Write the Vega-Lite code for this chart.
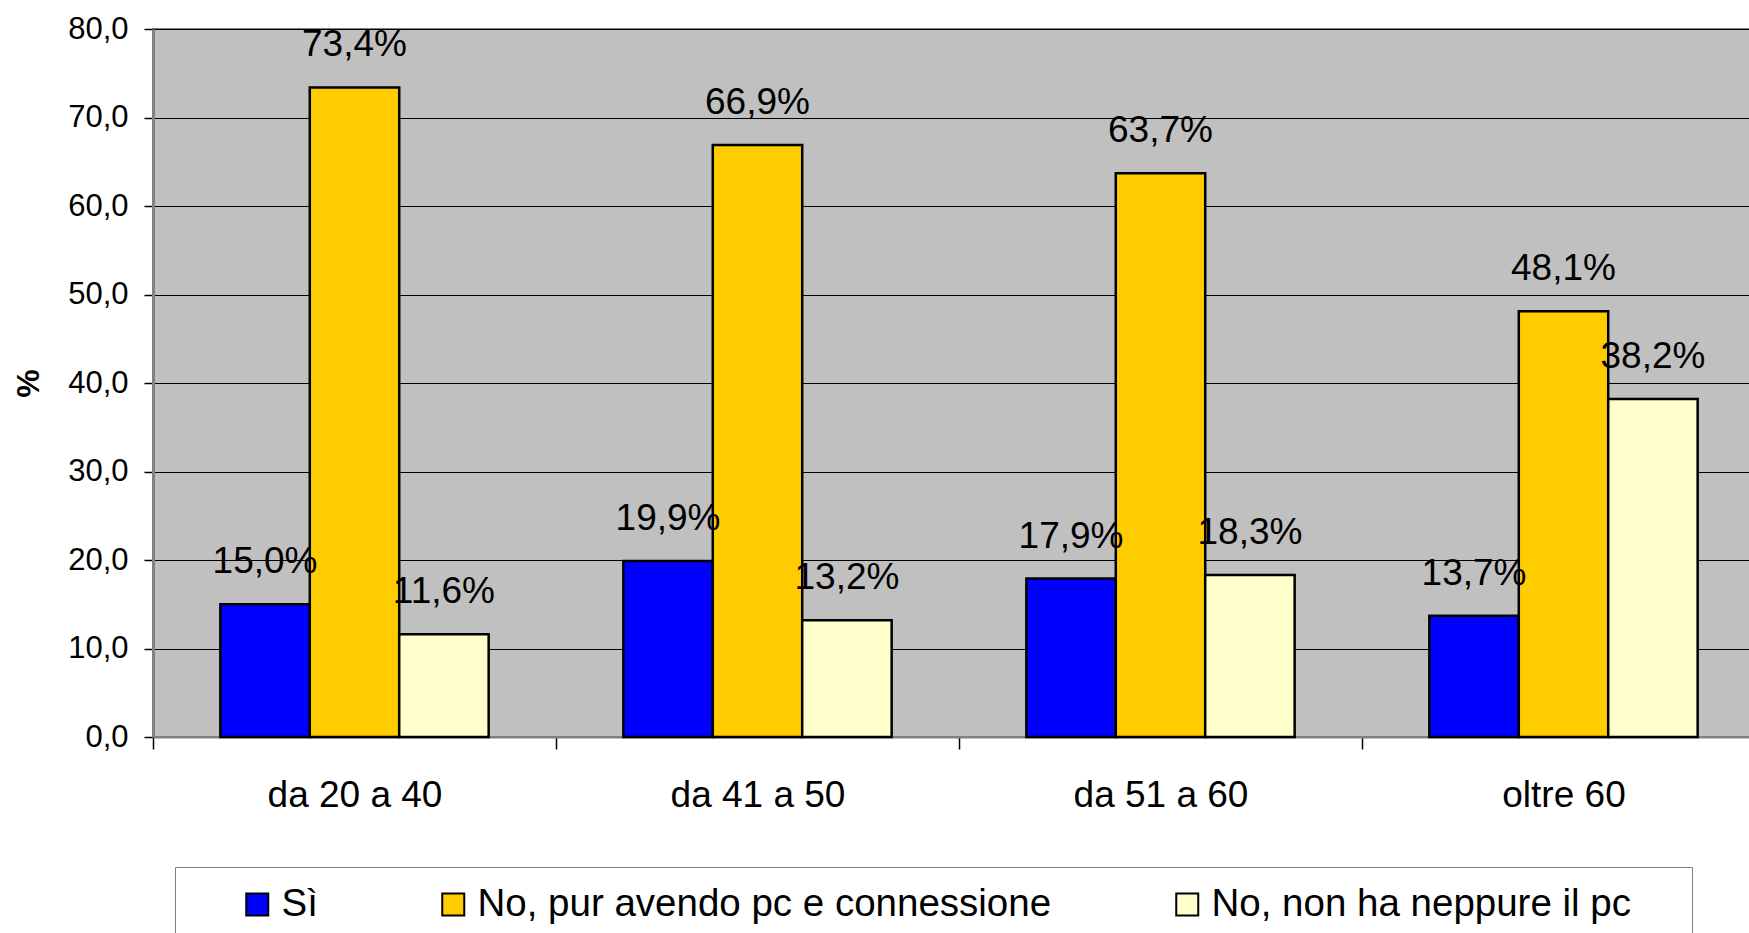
{
  "$schema": "https://vega.github.io/schema/vega-lite/v6.json",
  "width": 1612,
  "height": 708,
  "autosize": {"type": "none"},
  "padding": {"left": 153, "top": 29, "right": -16, "bottom": 196},
  "background": "white",
  "config": {
    "font": "Liberation Sans",
    "view": {"fill": "#C0C0C0", "stroke": "#808080", "strokeWidth": 2}
  },
  "data": {
    "values": [
      {"eta": "da 20 a 40", "risposta": "Sì", "pct": 15.0},
      {"eta": "da 20 a 40", "risposta": "No, pur avendo pc e connessione", "pct": 73.4},
      {"eta": "da 20 a 40", "risposta": "No, non ha neppure il pc", "pct": 11.6},
      {"eta": "da 41 a 50", "risposta": "Sì", "pct": 19.9},
      {"eta": "da 41 a 50", "risposta": "No, pur avendo pc e connessione", "pct": 66.9},
      {"eta": "da 41 a 50", "risposta": "No, non ha neppure il pc", "pct": 13.2},
      {"eta": "da 51 a 60", "risposta": "Sì", "pct": 17.9},
      {"eta": "da 51 a 60", "risposta": "No, pur avendo pc e connessione", "pct": 63.7},
      {"eta": "da 51 a 60", "risposta": "No, non ha neppure il pc", "pct": 18.3},
      {"eta": "oltre 60", "risposta": "Sì", "pct": 13.7},
      {"eta": "oltre 60", "risposta": "No, pur avendo pc e connessione", "pct": 48.1},
      {"eta": "oltre 60", "risposta": "No, non ha neppure il pc", "pct": 38.2}
    ]
  },
  "encoding": {
    "x": {
      "field": "eta",
      "type": "nominal",
      "sort": ["da 20 a 40", "da 41 a 50", "da 51 a 60", "oltre 60"],
      "scale": {"paddingInner": 0, "paddingOuter": 0},
      "axis": {
        "title": null,
        "tickBand": "extent",
        "labelAngle": 0,
        "labelFontSize": 37,
        "labelColor": "black",
        "labelPadding": 28,
        "tickSize": 12,
        "tickColor": "black",
        "tickWidth": 1.5,
        "domainColor": "#808080",
        "domainWidth": 2,
        "grid": false
      }
    },
    "xOffset": {
      "field": "risposta",
      "type": "nominal",
      "sort": ["Sì", "No, pur avendo pc e connessione", "No, non ha neppure il pc"],
      "scale": {"paddingInner": 0, "paddingOuter": 0.753}
    },
    "y": {
      "field": "pct",
      "type": "quantitative",
      "scale": {"domain": [0, 80], "nice": false},
      "axis": {
        "title": "%",
        "titleFontSize": 32,
        "titleFontWeight": "bold",
        "titleColor": "black",
        "titlePadding": 22,
        "values": [0, 10, 20, 30, 40, 50, 60, 70, 80],
        "labelExpr": "replace(format(datum.value, '.1f'), '.', ',')",
        "labelFontSize": 31,
        "labelColor": "black",
        "labelPadding": 16,
        "tickSize": 9,
        "tickColor": "black",
        "tickWidth": 1.5,
        "domainColor": "#808080",
        "domainWidth": 3,
        "gridColor": "black",
        "gridWidth": 1,
        "gridOpacity": 1
      }
    }
  },
  "layer": [
    {
      "mark": {"type": "bar", "stroke": "black", "strokeWidth": 2.5, "opacity": 1},
      "encoding": {
        "color": {
          "field": "risposta",
          "type": "nominal",
          "sort": ["Sì", "No, pur avendo pc e connessione", "No, non ha neppure il pc"],
          "scale": {
            "domain": ["Sì", "No, pur avendo pc e connessione", "No, non ha neppure il pc"],
            "range": ["#0000FF", "#FFCC00", "#FFFFCC"]
          },
          "legend": {
            "orient": "none",
            "legendX": 22,
            "legendY": 838,
            "direction": "horizontal",
            "title": " ",
            "titleOrient": "left",
            "titleFontSize": 10,
            "titlePadding": 45,
            "padding": 18,
            "strokeColor": "#808080",
            "fillColor": "white",
            "symbolType": "square",
            "symbolSize": 484,
            "symbolStrokeColor": "black",
            "symbolStrokeWidth": 2,
            "symbolOpacity": 1,
            "labelFontSize": 38.5,
            "labelColor": "black",
            "labelOffset": 5,
            "labelLimit": 0,
            "columnPadding": 116,
            "labelExpr": "datum.label == 'No, non ha neppure il pc' ? datum.label + '\u00a0\u00a0\u00a0\u00a0\u200b' : datum.label"
          }
        }
      }
    },
    {
      "transform": [
        {"calculate": "replace(format(datum.pct, '.1f'), '.', ',') + '%'", "as": "etichetta"}
      ],
      "mark": {"type": "text", "baseline": "alphabetic", "dy": -31, "fontSize": 37, "color": "black"},
      "encoding": {
        "text": {"field": "etichetta", "type": "nominal"}
      }
    }
  ]
}
